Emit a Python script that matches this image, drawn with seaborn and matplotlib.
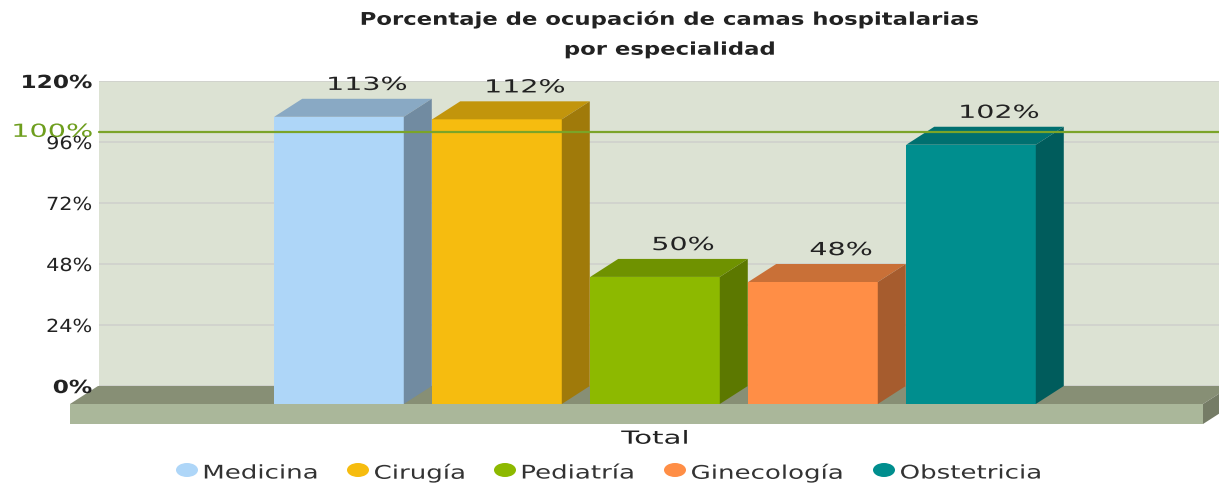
import matplotlib
matplotlib.use('Agg')
import pandas as pd
import seaborn as sns
import matplotlib.pyplot as plt
from matplotlib.patches import Polygon, Ellipse
from matplotlib.patheffects import AbstractPathEffect
from matplotlib.transforms import Affine2D
from matplotlib.colors import to_rgb

# values
especialidades = ['Medicina', 'Cirugía', 'Pediatría', 'Ginecología', 'Obstetricia']
ocupacion = [113, 112, 50, 48, 102]
etiquetas = ['113%', '112%', '50%', '48%', '102%']
colores = ['#AED6F8', '#F6BC0F', '#8DB900', '#FF8E46', '#008E8E']
grupo = 'Total'
ticks_y = [0, 24, 48, 72, 96, 120]
referencia = 100
titulo = 'Porcentaje de ocupación de camas hospitalarias\npor especialidad'

# layout in pixels of the 1219x483 picture
W, H = 1219, 483
FLOOR_Y = 404
PX_PER_PCT = 305 / 120
DX, DY = 28, 18
PX_PER_CAT = 987.5
CAT_X = 655
leyenda_x = [187, 358, 505, 675, 884]


class Stretch(AbstractPathEffect):
    # widens the text around an anchor (0 left, .5 centre, 1 right), the original font is very wide
    def __init__(self, sx, anchor=0.5):
        self.sx = sx
        self.anchor = anchor

    def draw_path(self, renderer, gc, tpath, affine, rgbFace=None):
        ext = affine.transform_path(tpath).get_extents()
        x0 = ext.x0 + self.anchor * ext.width
        t = affine + Affine2D().translate(-x0, 0).scale(self.sx, 1).translate(x0, 0)
        renderer.draw_path(gc, tpath, t, rgbFace)


def shade(color, k):
    return tuple(c * k for c in to_rgb(color))


sns.set_theme(style='white')
plt.rcParams['font.family'] = 'DejaVu Sans'
fig = plt.figure(figsize=(W / 100, H / 100), dpi=100)
px = Affine2D().scale(1 / W, -1 / H).translate(0, 1) + fig.transFigure

# back wall with the % axis
wall = fig.add_axes([99 / W, (H - 386) / H, (W - 99) / W, 305 / H], zorder=0)
wall.set_facecolor('#DCE2D3')
wall.set_ylim(0, 120)
wall.set_xticks([])
wall.set_yticks(ticks_y)
wall.set_yticklabels([f'{t}%' for t in ticks_y])
wall.grid(axis='y', color='#CFD0CC', lw=1.2)
wall.tick_params(axis='y', length=0, pad=5, labelsize=13, labelcolor='#222222')
sns.despine(ax=wall, left=True, bottom=True)
for lab, t in zip(wall.get_yticklabels(), ticks_y):
    if t in (0, 120):
        lab.set_fontweight('bold')
        lab.set_path_effects([Stretch(1.29, 1)])
    else:
        lab.set_path_effects([Stretch(1.15, 1)])
wall.annotate(f'{referencia}%', (0, referencia), xycoords=wall.get_yaxis_transform(),
              xytext=(-5, 0), textcoords='offset points', ha='right', va='center',
              fontsize=13, color='#6E9E1E', path_effects=[Stretch(1.59, 1)])

# floor
fig.add_artist(Polygon([(70, 404), (98, 386), (1231, 386), (1203, 404)], transform=px, fc='#878F75', ec='none', zorder=-1))
fig.add_artist(Polygon([(70, 404), (1203, 404), (1203, 424), (70, 424)], transform=px, fc='#AAB79A', ec='none', zorder=-1))
fig.add_artist(Polygon([(1203, 404), (1231, 386), (1231, 406), (1203, 424)], transform=px, fc='#757C66', ec='none', zorder=-1))

# bars, the axes baseline is the front edge of the floor
ax = fig.add_axes([0, (H - FLOOR_Y) / H, 1, FLOOR_Y / H], zorder=2)
ax.patch.set_alpha(0)
df = pd.DataFrame({'Grupo': [grupo] * 5, 'Especialidad': especialidades, 'Ocupacion': ocupacion})
sns.barplot(data=df, x='Grupo', y='Ocupacion', hue='Especialidad', hue_order=especialidades,
            palette=colores, saturation=1, width=0.8, gap=0.18, legend=False, linewidth=0, ax=ax)
ax.set_xlim(-CAT_X / PX_PER_CAT, (W - CAT_X) / PX_PER_CAT)
ax.set_ylim(0, FLOOR_Y / PX_PER_PCT)
ax.set_xlabel('')
ax.set_ylabel('')
ax.set_yticks([])
sns.despine(ax=ax, left=True, bottom=True)
ax.tick_params(axis='x', length=0, pad=18.5, labelsize=13, labelcolor='#222222')
for lab in ax.get_xticklabels():
    lab.set_path_effects([Stretch(1.62)])

dx = DX / PX_PER_CAT
dy = DY / PX_PER_PCT
for bar, col, txt in zip(ax.patches, colores, etiquetas):
    x0, x1, h = bar.get_x(), bar.get_x() + bar.get_width(), bar.get_height()
    ax.add_patch(Polygon([(x0, h), (x1, h), (x1 + dx, h + dy), (x0 + dx, h + dy)],
                         fc=shade(col, 0.79), ec='none', zorder=bar.get_zorder()))
    ax.add_patch(Polygon([(x1, 0), (x1 + dx, dy), (x1 + dx, h + dy), (x1, h)],
                         fc=shade(col, 0.65), ec='none', zorder=bar.get_zorder()))
    ax.annotate(txt, (x0 + (x1 - x0) / 2 + dx, h + dy), xytext=(0, 10), textcoords='offset points',
                ha='center', va='center', fontsize=13, color='#222222', zorder=6,
                path_effects=[Stretch(1.58)])

# 100% line goes over the bars
ax.plot([0, 1], [referencia, referencia], transform=wall.get_yaxis_transform(),
        color='#7BA428', lw=1.6, zorder=5, scalex=False, scaley=False)

fig.text(670 / W, 1 - 34.5 / H, titulo, ha='center', va='center', fontsize=12.6, fontweight='bold',
         color='#222222', linespacing=1.85, path_effects=[Stretch(1.3)])

# legend
for nombre, col, x in zip(especialidades, colores, leyenda_x):
    fig.add_artist(Ellipse((x, 470), 22, 14, transform=px, fc=col, ec='none'))
    fig.text((x + 16) / W, 1 - 473 / H, nombre, ha='left', va='center', fontsize=13.5,
             color='#333333', path_effects=[Stretch(1.39, 0)])

fig.savefig('out.png', dpi=100)
